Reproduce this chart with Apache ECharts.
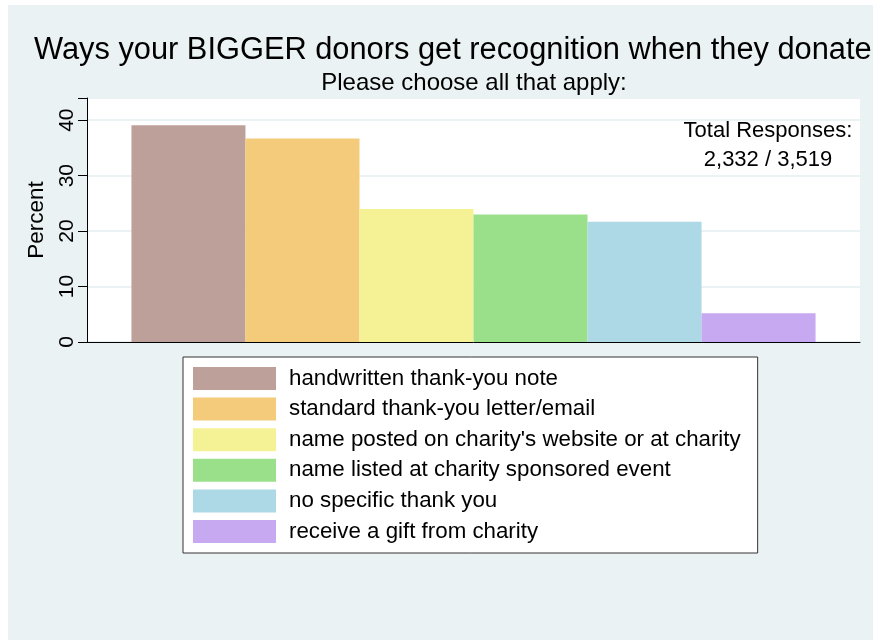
<!DOCTYPE html>
<html>
<head>
<meta charset="utf-8">
<script src="https://cdn.jsdelivr.net/npm/echarts@6/dist/echarts.min.js"></script>
<style>
  body { margin: 0; background: #ffffff; }
  #chart { position: absolute; left: 8px; top: 5px; width: 865px; height: 635px; }
</style>
</head>
<body>
<div id="chart"></div>
<script>
// answers and percent of responses
const answers = [
  'handwritten thank-you note',
  'standard thank-you letter/email',
  "name posted on charity's website or at charity",
  'name listed at charity sponsored event',
  'no specific thank you',
  'receive a gift from charity'
]
const percents = [39.1, 36.7, 24.0, 23.0, 21.7, 5.2]
const barColors = ['#BDA09A', '#F3CB7A', '#F5F295', '#9AE08B', '#ADD8E6', '#C6A9F0']
const yTicks = [0, 10, 20, 30, 40]

let myChart = echarts.init(document.getElementById('chart'))

let series = answers.map((name, i) => ({
  name: name,
  type: 'bar',
  data: [percents[i]],
  barGap: '0%',
  barCategoryGap: '11.5%',
  itemStyle: { color: barColors[i] },
  emphasis: { disabled: true }
}))

let option = {
  backgroundColor: '#EAF2F3',
  animation: false,
  textStyle: { fontFamily: 'Liberation Sans, Arial, sans-serif' },
  title: [
    {
      text: 'Ways your BIGGER donors get recognition when they donate:',
      left: 21,
      top: 25,
      textStyle: { fontSize: 30.8, fontWeight: 'normal', color: '#000' }
    },
    {
      text: 'Please choose all that apply:',
      left: 461,
      top: 61,
      textAlign: 'center',
      textStyle: { fontSize: 24, fontWeight: 'normal', color: '#000' }
    },
    {
      text: 'Total Responses:\n2,332 / 3,519',
      left: 755,
      top: 106,
      textAlign: 'center',
      textStyle: { fontSize: 22, fontWeight: 'normal', color: '#000', lineHeight: 29.5 }
    }
  ],
  grid: {
    left: 79,
    right: 13,
    top: 93,
    bottom: 298,
    show: true,
    backgroundColor: '#ffffff',
    borderWidth: 0
  },
  legend: {
    orient: 'vertical',
    left: 175,
    top: 352,
    data: answers,
    icon: 'rect',
    itemWidth: 83,
    itemHeight: 23,
    itemGap: 7.6,
    padding: [10, 17, 10, 10],
    backgroundColor: '#ffffff',
    borderColor: '#333',
    borderWidth: 1,
    selectedMode: false,
    textStyle: { fontSize: 22.3, color: '#000', padding: [3, 0, 0, 8] }
  },
  xAxis: {
    type: 'category',
    data: [''],
    axisLine: { lineStyle: { color: '#000', width: 1 } },
    axisTick: { show: false },
    axisLabel: { show: false }
  },
  yAxis: {
    type: 'value',
    min: 0,
    max: 44,
    interval: 10,
    name: 'Percent',
    nameLocation: 'middle',
    nameRotate: 90,
    nameGap: 39,
    nameTextStyle: { fontSize: 22.5, color: '#000' },
    axisLine: { show: true, lineStyle: { color: '#000', width: 1 } },
    axisTick: { show: true, length: 9, lineStyle: { color: '#000' } },
    axisLabel: {
      rotate: 90,
      fontSize: 21,
      color: '#000',
      margin: 9,
      formatter: (v) => yTicks.includes(v) ? String(v) : ''
    },
    splitLine: { show: true, lineStyle: { color: '#EAF2F3', width: 2 } }
  },
  series: series
}

myChart.setOption(option)
</script>
</body>
</html>
